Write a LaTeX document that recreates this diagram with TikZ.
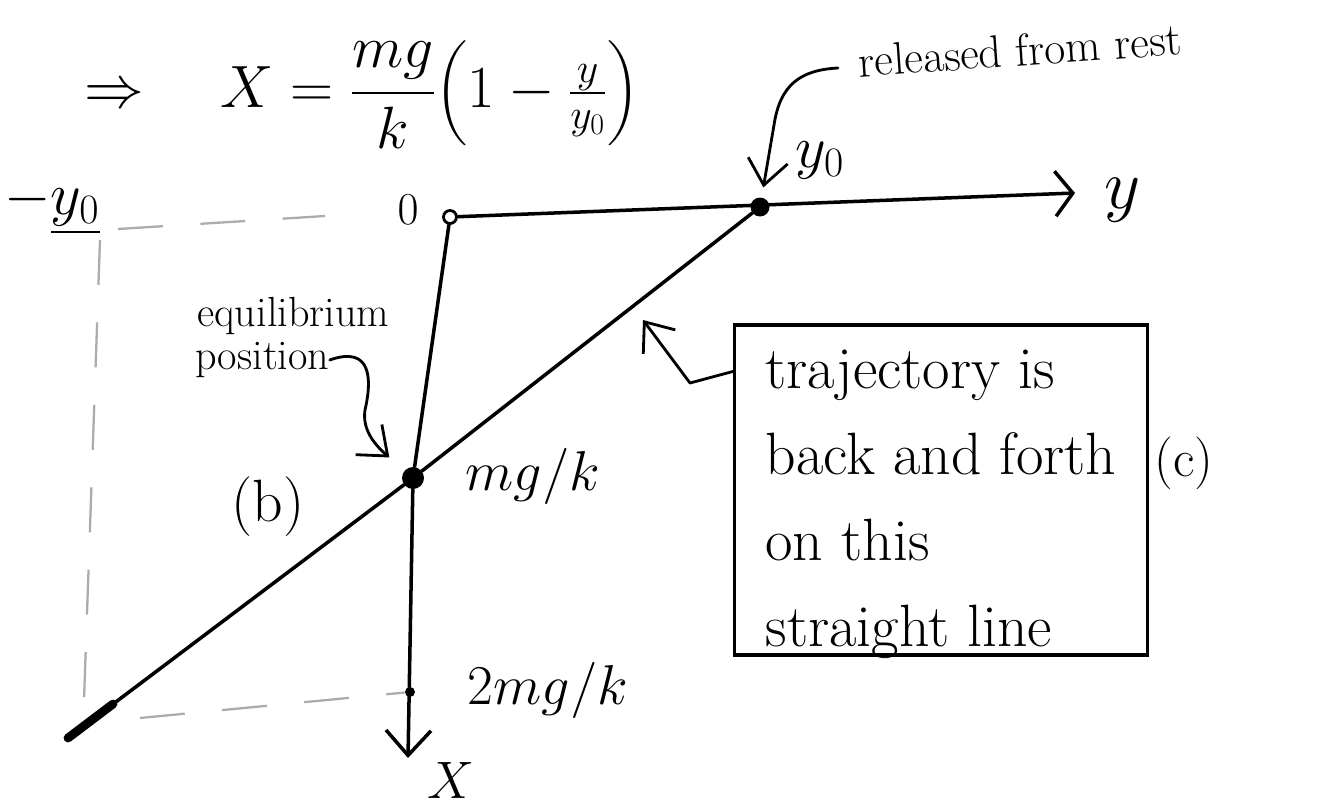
\RequirePackage{fix-cm}
\documentclass[tikz,border=0pt]{standalone}
\usepackage{amsmath}
\usepackage{tikz}
\usetikzlibrary{arrows.meta}

\begin{document}
\begin{tikzpicture}[x=0.02cm, y=-0.02cm,
				>={Straight Barb[length=5mm,width=8mm]},   %Voreinstellung fuer Pfeilspitzen
				axis/.style={line width=2pt, line cap=round, line join=round},
				pen/.style={line width=1.6pt, line cap=round, line join=round},
				guide/.style={gray!65, line width=1.3pt, dash pattern=on 0.9cm off 0.75cm},
				hand/.style={inner sep=0pt, font=\fontsize{#1}{#1}\selectfont},
				dot/.style={circle, fill, inner sep=0pt, minimum size=#1}]
				%Bildbereich
				\fill[white] (0,0) rectangle (1334,811);
				\useasboundingbox (0,0) rectangle (1334,811);
				% Punkte
				\node[circle, draw, line width=1.6pt, inner sep=0pt, minimum size=0.26cm] (o) at (450,217) {};
				\node[dot=0.44cm] (eq) at (413,478) {};
				\node[dot=0.38cm] (rel) at (760,207) {};
				\node[dot=0.2cm] (tk) at (410,692) {};
				\coordinate (yend) at (1075,193);
				\coordinate (xend) at (408,758);
				\coordinate (lowend) at (68,738);
				% Achsen zeichnen
				\draw[axis,-{Straight Barb[length=3.5mm,width=9mm]}] (o) -- (yend);
				\draw[axis] (o) -- (eq);
				\draw[axis,-{Straight Barb[length=5mm,width=9mm]}] (eq) -- (xend);
				% Gerade (Bahn)
				\draw[axis] (lowend) -- (eq) -- (rel);
				\draw[line width=5pt, line cap=round] (lowend) -- ++(45,-34);
				% Hilfslinien
				\draw[guide] (118,229) -- (325,216);
				\draw[guide] (100,240) -- (84,700);
				\draw[guide] (140,718) -- (tk);
				% Beschriftungen
				\node[hand=34] (eqn) at (362,94) {$\Rightarrow\quad X=\dfrac{mg}{k}\Bigl(1-\tfrac{y}{y_0}\Bigr)$};
				\node[hand=34] (mylab) at (52,207) {$-\underline{y_0}$};
				\node[hand=26] (zlab) at (408,210) {$0$};
				\node[hand=34] (y0lab) at (820,160) {$y_0$};
				\node[hand=40] (ylab) at (1123,200) {$y$};
				\node[hand=30] (xlab) at (451,780) {$X$};
				\node[hand=32] (mglab) at (533,476) {$mg/k$};
				\node[hand=32] (mg2lab) at (548,690) {$2mg/k$};
				\node[hand=34] (blab) at (268,507) {(b)};
				\node[hand=30] (clab) at (1184,463) {(c)};
				\node[hand=26, rotate=4] (rellab) at (1020,50) {released from rest};
				\node[hand=24, anchor=west] (eqlab) at (197,316) {equilibrium};
				\node[hand=24, anchor=west] (poslab) at (195,360) {position};
				% Kasten
				\node[draw, line width=1.8pt, minimum width=8.26cm, minimum height=6.6cm] (box) at (941,490) {};
				\node[align=left, inner sep=0pt, font=\fontsize{34}{49}\selectfont] (boxtxt) at (941,504)
					{trajectory is\\back and forth\\on this\\straight line};
				% Hinweispfeile
				\coordinate (relstart) at (838,68);
				\draw[pen,->,shorten >=0.2cm] (relstart) .. controls (800,70) and (780,85) .. (774,125) -- (rel);
				\draw[pen,->,shorten >=0.4cm] (poslab.east) .. controls (372,345) and (372,380) .. (365,410) .. controls (362,430) and (375,445) .. (eq);
				\draw[pen,->] ([yshift=-0.96cm]box.north west) -- (690,383) -- (643,320);
			\end{tikzpicture}
\end{document}
